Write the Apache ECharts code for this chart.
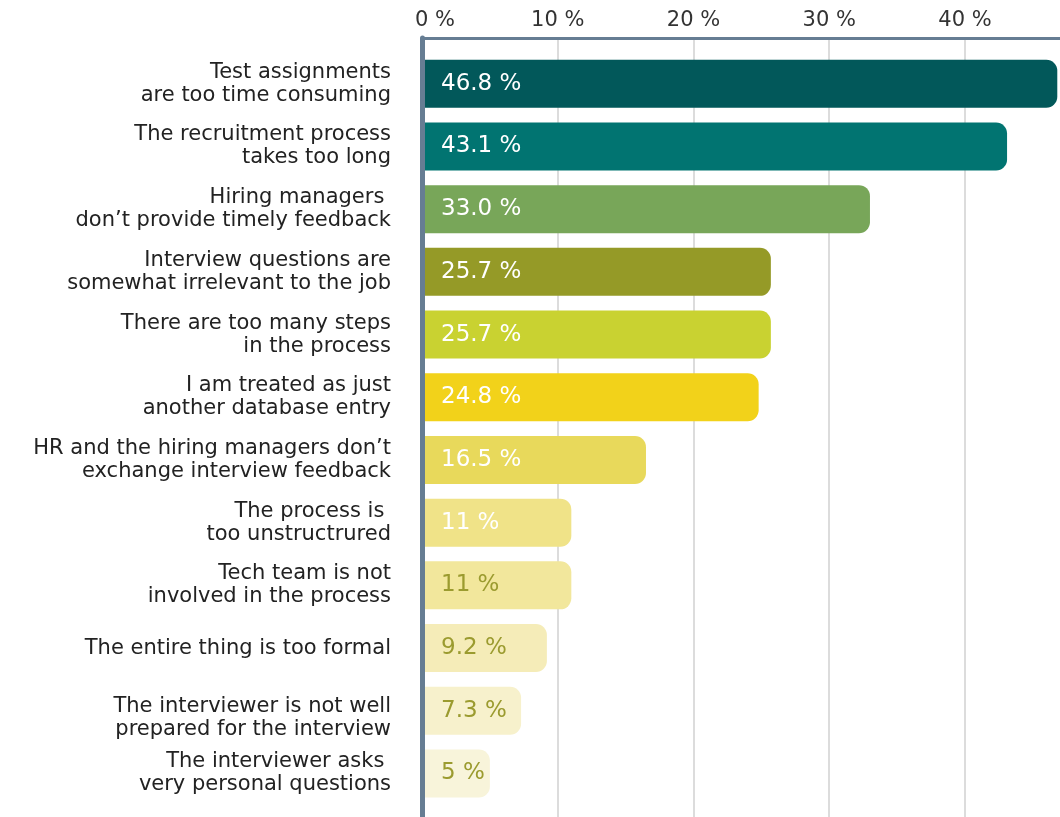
<!DOCTYPE html>
<html>
<head>
<meta charset="utf-8">
<script src="https://cdn.jsdelivr.net/npm/echarts@6/dist/echarts.min.js"></script>
<style>
html,body{margin:0;padding:0;background:#fff;}
#c{width:1060px;height:817px;}
</style>
</head>
<body>
<div id="c"></div>
<script>
var categories = [
  "Test assignments\nare too time consuming",
  "The recruitment process\ntakes too long",
  "Hiring managers \ndon\u2019t provide timely feedback",
  "Interview questions are\nsomewhat irrelevant to the job",
  "There are too many steps\nin the process",
  "I am treated as just\nanother database entry",
  "HR and the hiring managers don\u2019t\nexchange interview feedback",
  "The process is \ntoo unstructrured",
  "Tech team is not\ninvolved in the process",
  "The entire thing is too formal",
  "The interviewer is not well\nprepared for the interview",
  "The interviewer asks \nvery personal questions"
];
var values = [46.8, 43.1, 33.0, 25.7, 25.7, 24.8, 16.5, 11, 11, 9.2, 7.3, 5];
var barLabels = ["46.8 %", "43.1 %", "33.0 %", "25.7 %", "25.7 %", "24.8 %", "16.5 %", "11 %", "11 %", "9.2 %", "7.3 %", "5 %"];
var barColors = ["#02585a", "#017471", "#78a659", "#959a27", "#c9d231", "#f2d21a", "#e8d95b", "#f0e388", "#f2e79c", "#f5ecb8", "#f7f1cc", "#f8f4da"];
var labelColors = ["#ffffff", "#ffffff", "#ffffff", "#ffffff", "#ffffff", "#ffffff", "#ffffff", "#ffffff", "#9b9b2f", "#9b9b2f", "#9b9b2f", "#9b9b2f"];
var tickLabels = ["0 %", "10 %", "20 %", "30 %", "40 %"];

var FONT = "DejaVu Sans";
var chart = echarts.init(document.getElementById('c'), null, {renderer: 'canvas'});

var seriesData = values.map(function (v, i) {
  return {
    value: v,
    itemStyle: {color: barColors[i]},
    label: {color: labelColors[i]}
  };
});

chart.setOption({
  animation: false,
  backgroundColor: '#ffffff',
  grid: [
    {left: 422, top: 38, width: 641, bottom: 0},
    {left: 422, top: 52.4, width: 641, height: 752.4}
  ],
  xAxis: [
    {
      gridIndex: 0, type: 'value', position: 'top', min: 0, max: 47, interval: 10,
      axisLine: {show: true, onZero: false, lineStyle: {color: '#667d93', width: 3}},
      axisTick: {show: false},
      splitLine: {show: true, showMaxLine: false, showMinLine: false, lineStyle: {color: '#d0d0d0', width: 1.5}},
      axisLabel: {
        showMaxLabel: false,
        margin: 7,
        fontFamily: FONT, fontSize: 21, color: '#333333',
        formatter: function (v) {
          var i = Math.round(v / 10);
          if (i === 0) return '{z|' + tickLabels[0] + '}';
          return tickLabels[i] !== undefined ? tickLabels[i] : '';
        },
        rich: {z: {fontFamily: FONT, fontSize: 21, color: '#333333', padding: [0, 0, 0, 26]}}
      }
    },
    {gridIndex: 1, type: 'value', min: 0, max: 47, show: false}
  ],
  yAxis: [
    {
      gridIndex: 0, type: 'value', position: 'left', z: 5,
      axisLine: {show: true, onZero: false, lineStyle: {color: '#667d93', width: 5}},
      axisTick: {show: false}, axisLabel: {show: false}, splitLine: {show: false}
    },
    {
      gridIndex: 1, type: 'category', inverse: true, data: categories,
      axisLine: {show: false}, axisTick: {show: false}, splitLine: {show: false},
      axisLabel: {
        margin: 31, fontFamily: FONT, fontSize: 21, lineHeight: 23,
        color: '#222222', align: 'right',
        formatter: function (v, i) {
          if (i === 10) return '{s| }\n' + v;
          return v;
        },
        rich: {s: {fontSize: 4, lineHeight: 15}}
      }
    }
  ],
  series: [{
    type: 'bar', xAxisIndex: 1, yAxisIndex: 1,
    data: seriesData, barWidth: 48,
    itemStyle: {borderRadius: [0, 11, 11, 0]},
    label: {
      show: true, position: 'insideLeft', distance: 19,
      fontFamily: FONT, fontSize: 23,
      formatter: function (p) { return barLabels[p.dataIndex]; }
    }
  }]
});
</script>
</body>
</html>
